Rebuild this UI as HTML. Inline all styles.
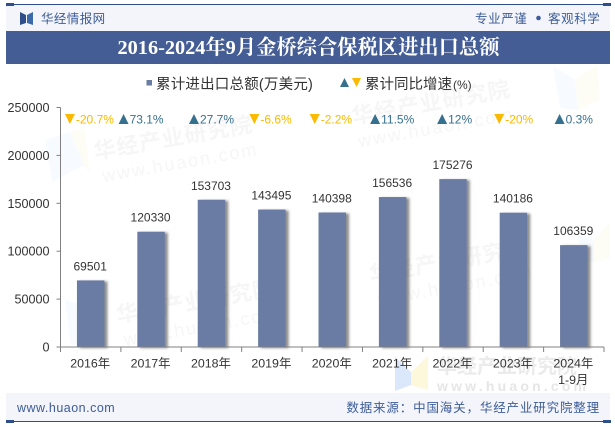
<!DOCTYPE html>
<html lang="zh">
<head>
<meta charset="utf-8">
<title>2016-2024年9月金桥综合保税区进出口总额</title>
<style>
html,body{margin:0;padding:0;background:#fff;}
body{width:615px;height:427px;overflow:hidden;}
svg{display:block;}
text{font-family:"Liberation Sans","Noto Sans CJK SC",sans-serif;}
.serif{font-family:"Liberation Serif","Noto Serif CJK SC",serif;}
</style>
</head>
<body>
<svg id="chart" width="615" height="427" viewBox="0 0 615 427" xmlns="http://www.w3.org/2000/svg">
<defs>
<filter id="barShadow" x="-30%" y="-10%" width="170%" height="120%">
<feDropShadow dx="3" dy="1" stdDeviation="1.4" flood-color="#333" flood-opacity="0.55"/>
</filter>
</defs>
<g id="watermarks">
<g transform="rotate(-10 170 140)" fill="#f6f6f6">
<text x="93" y="146" font-size="22" font-weight="700" letter-spacing="1">华经产业研究院</text>
<text x="97" y="170" font-size="18" letter-spacing="2">www.huaon.com</text>
</g>
<g transform="rotate(-10 420 100)" fill="#f6f6f6">
<text x="350" y="112" font-size="22" font-weight="700" letter-spacing="1">华经产业研究院</text>
<text x="352" y="136" font-size="18" letter-spacing="2">www.huaon.com</text>
</g>
<g transform="rotate(-10 190 300)" fill="#f6f6f6">
<text x="115" y="310" font-size="22" font-weight="700" letter-spacing="1">华经产业研究院</text>
<text x="118" y="334" font-size="18" letter-spacing="2">www.huaon.com</text>
</g>
<g transform="rotate(-10 440 260)" fill="#f6f6f6">
<text x="368" y="270" font-size="22" font-weight="700" letter-spacing="1">华经产业研究院</text>
<text x="372" y="294" font-size="18" letter-spacing="2">www.huaon.com</text>
</g>
<polygon points="45,140 70,132 84,165 52,182" fill="#f7fafe"/>
<polygon points="70,132 84,128 90,172 84,165" fill="#fefdf5"/>
<polygon points="553,66 575,80 578,110 560,108" fill="#f7fafe"/>
<polygon points="575,80 597,65 600,100 578,110" fill="#fefdf5"/>
<polygon points="578,235 594,240 594,262 582,262" fill="#f7fafe"/>
<polygon points="594,240 610,222 610,258 594,262" fill="#fefdf5"/>
<polygon points="65,300 76,303 80,345 71,345" fill="#f7fafe"/>
<polygon points="395,357 411,372 411,385 395,391" fill="#dbe8fb"/>
<polygon points="411,372 428,356 428,390 411,385" fill="#fdf7dc"/>
<text x="437" y="373" font-size="20" font-weight="700" fill="#ebebeb">华经产业研究院</text>
<text x="437" y="391" font-size="14" font-weight="700" fill="#e6e6e6" letter-spacing="3.2">www.huaon.com</text>
</g>
<rect x="6" y="5" width="604" height="26" fill="#f3f5fa"/>
<rect x="6" y="4" width="604" height="1" fill="#2f4e8c"/>
<rect x="6" y="3" width="8" height="3" fill="#2f4e8c"/>
<rect x="603" y="3" width="8" height="3" fill="#2f4e8c"/>
<g>
<polygon points="20,12 26,15 26,23 20,25" fill="#2f4e8c"/>
<polygon points="33,12 27,15 27,23 33,25" fill="#3b6aa8"/>
</g>
<text x="41" y="23" font-size="12.5" fill="#3d5c98" letter-spacing="0.4">华经情报网</text>
<text x="475" y="23" font-size="12.5" fill="#3d5c98" letter-spacing="0.6">专业严谨</text>
<circle cx="538.5" cy="18" r="2.3" fill="#3d5c98"/>
<text x="548" y="23" font-size="12.5" fill="#3d5c98" letter-spacing="0.6">客观科学</text>
<rect x="6" y="31" width="604" height="33" fill="#445d94"/>
<text class="serif" x="308.500" y="54" font-size="20.3" font-weight="700" fill="#ffffff" text-anchor="middle">2016-2024年9月金桥综合保税区进出口总额</text>
<g>
<rect x="146.500" y="80" width="5.500" height="5.500" fill="#6a7ca3"/>
<text x="156" y="89" font-size="14.500" fill="#333" letter-spacing="0.2">累计进出口总额(万美元)</text>
<polygon points="340,87 349,87 344.500,78" fill="#36708f"/>
<polygon points="352,78 361,78 356.500,87" fill="#fbb900"/>
<text x="365" y="89" font-size="14.500" fill="#333">累计同比增速<tspan font-size="12" dx="1">(%)</tspan></text>
</g>
<g id="plot"></g>
<rect x="6" y="393" width="604" height="28" fill="#f3f5fa"/>
<rect x="6" y="421" width="604" height="1" fill="#2f4e8c"/>
<rect x="6" y="420" width="8" height="3" fill="#2f4e8c"/>
<rect x="603" y="420" width="8" height="3" fill="#2f4e8c"/>
<text x="17" y="412" font-size="12.500" fill="#3d5c98" letter-spacing="0.5">www.huaon.com</text>
<text x="600" y="412" font-size="12.500" fill="#3d5c98" text-anchor="end" letter-spacing="0.85">数据来源：中国海关，华经产业研究院整理</text>
</svg>
<script>
const categories = ['2016年','2017年','2018年','2019年','2020年','2021年','2022年','2023年','2024年'];
const categoryNotes = ['','','','','','','','','1-9月'];
const totals = [69501,120330,153703,143495,140398,156536,175276,140186,106359];
const growth = [-20.7,73.1,27.7,-6.6,-2.2,11.5,12,-20,0.3];
const yTicks = [0,50000,100000,150000,200000,250000];

const NS = 'http://www.w3.org/2000/svg';
const plot = document.getElementById('plot');
const left = 60.5, right = 604, base = 347, top_ = 107.5, yMax = 250000;
const band = (right - left) / categories.length;
const barW = 27.5;
const xScale = i => left + band * i;
const yScale = v => base - (v / yMax) * (base - top_);

function mk(tag, attrs, txt) {
  const el = document.createElementNS(NS, tag);
  for (const k in attrs) el.setAttribute(k, attrs[k]);
  if (txt !== undefined) el.textContent = txt;
  plot.appendChild(el);
  return el;
}

const yAxis = mk('line', {x1:left,x2:left,y1:top_,y2:base,stroke:'#808080','stroke-width':1});



yTicks.forEach(t => {
  const y = yScale(t);
  const tick = mk('line', {x1:left-4,x2:left,y1:y,y2:y,stroke:'#808080','stroke-width':1});
  
  
  const label = mk('text', {x:49.5,y:y+4.5,'font-size':12.6,fill:'#333','text-anchor':'end'}, String(t));
  
  
});

for (let i = 0; i <= categories.length; i++) {
  const x = xScale(i);
  const tick = mk('line', {x1:x,x2:x,y1:base,y2:base+5,stroke:'#808080','stroke-width':1});
  
  
}

categories.forEach((c, i) => {
  const cx = xScale(i) + band / 2;
  const bar = mk('rect', {x:cx-barW/2,y:yScale(totals[i]),width:barW,height:base-yScale(totals[i]),fill:'#6a7ca3',filter:'url(#barShadow)'});
  
  
});
const xAxis = mk('line', {x1:left,x2:right,y1:base,y2:base,stroke:'#808080','stroke-width':1});



categories.forEach((c, i) => {
  const cx = xScale(i) + band / 2;
  const value = mk('text', {x:cx-0.5,y:yScale(totals[i])-10,'font-size':12,fill:'#333','text-anchor':'middle'}, String(totals[i]));
  
  
  const xLabel = mk('text', {x:cx-0.5,y:367.5,'font-size':12.4,fill:'#333','text-anchor':'middle'}, c);
  
  
  if (categoryNotes[i]) {
    const note = mk('text', {x:cx-0.5,y:384,'font-size':12.4,fill:'#333','text-anchor':'middle'}, categoryNotes[i]);
    
    
  }
  const g = growth[i];
  const up = g >= 0;
  const text = g + '%';
  const color = up ? '#36708f' : '#fbb900';
  const tw = text.length * 6.6;
  const total = 10 + tw + 1;
  const shift = i === 1 ? -10 : 0;
  const sx = cx - total / 2 + shift - 0.5;
  const ty = 119;
  const pts = up
    ? [[sx,ty+5],[sx+10,ty+5],[sx+5,ty-5]]
    : [[sx,ty-5],[sx+10,ty-5],[sx+5,ty+5]];
  const tri = mk('polygon', {points:pts.map(p=>p.join(',')).join(' '),fill:color});
  
  
  const gLabel = mk('text', {x:sx+11,y:ty+4.5,'font-size':12,fill:color}, text);
  
  
});
</script>
</body>
</html>
